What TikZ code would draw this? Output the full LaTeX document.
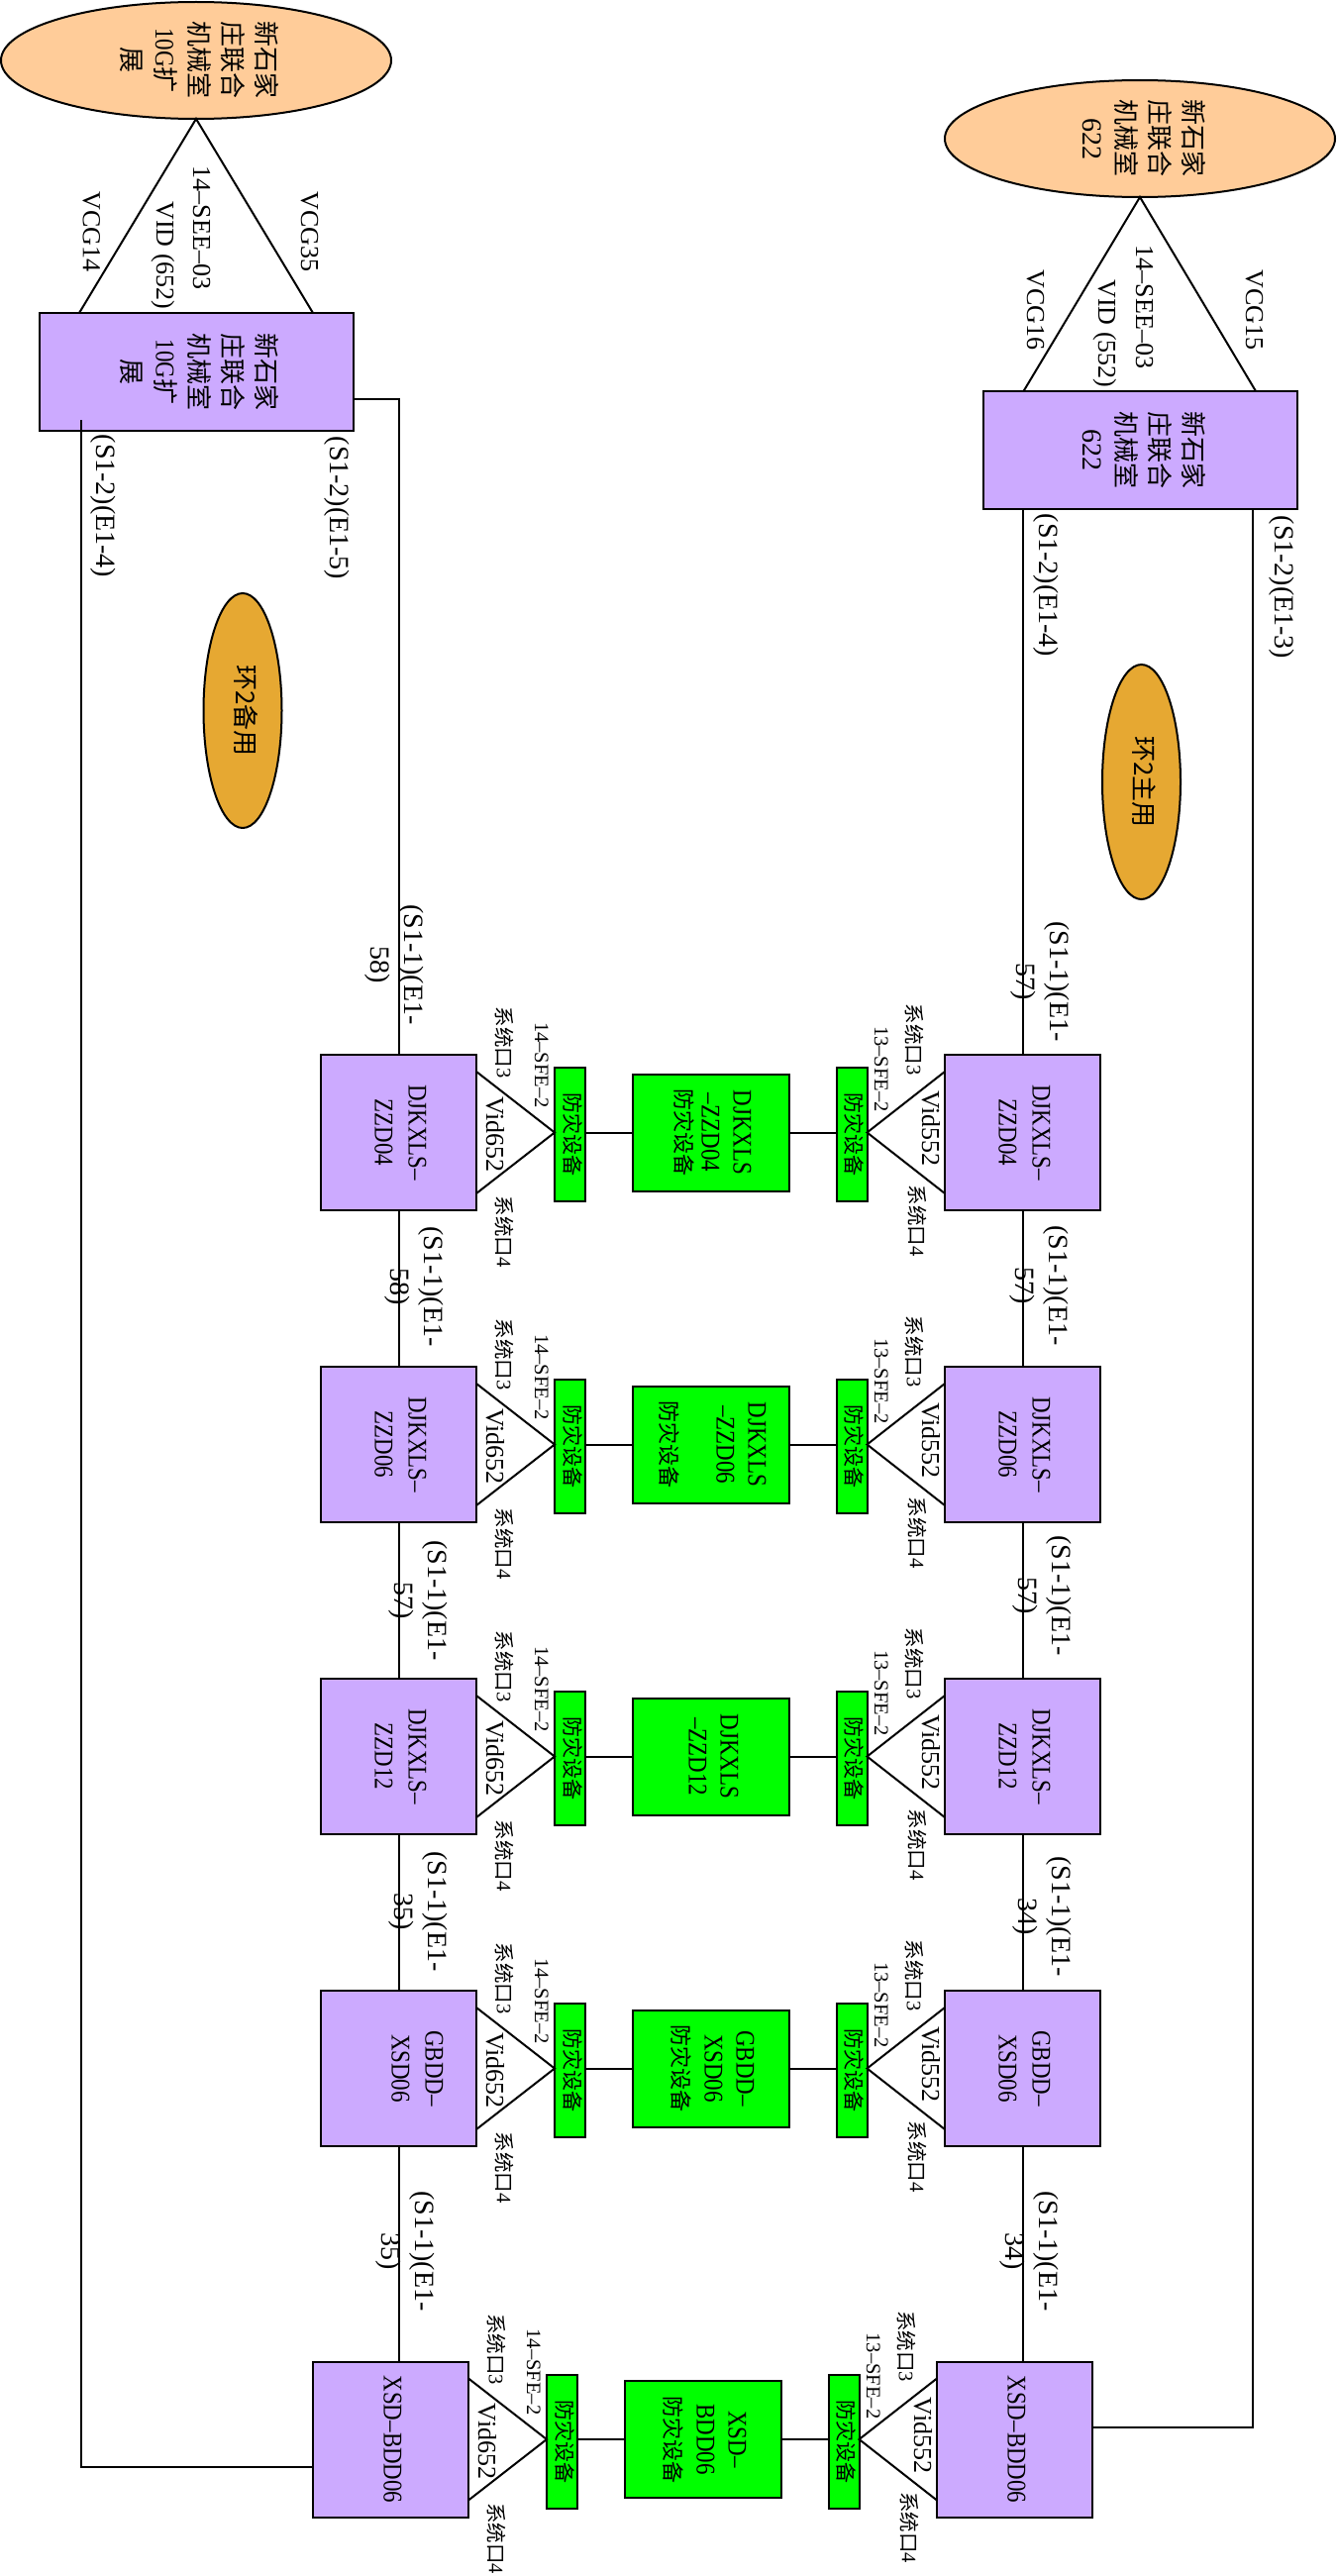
\documentclass[tikz,border=0pt]{standalone}
\usepackage{fontspec}
\setmainfont{Liberation Serif}
\newfontfamily\nmfont[FakeStretch=0.85]{Liberation Serif}
\newfontfamily\cjk{Noto Sans CJK SC}
\usetikzlibrary{shapes.geometric,calc}
\newcommand\C[1]{{\cjk #1}}
\newcommand\Cg[1]{{\fontsize{11}{16}\selectfont\cjk #1}}
\newcommand\vtxt[1]{\rotatebox{-90}{\begin{tabular}{@{}c@{}}#1\end{tabular}}}
\newcommand\lat[1]{{\fontsize{13.5}{17}\selectfont\nmfont #1}}
\newcommand\num[1]{{\fontsize{14}{17}\selectfont #1}}
\definecolor{peach}{RGB}{255,204,153}
\definecolor{lav}{RGB}{204,170,255}
\definecolor{ringgold}{RGB}{230,168,50}
\definecolor{grn}{RGB}{0,255,0}
\begin{document}
\begin{tikzpicture}[x=0.5pt,y=-0.5pt,
  every node/.style={inner sep=0pt,outer sep=0pt},
  ln/.style={line width=1pt},
  boxed/.style={draw,line width=1pt,rectangle},
  pbox/.style={boxed,fill=lav,minimum width=78.5pt,minimum height=78.5pt,font=\fontsize{13.5}{17}\selectfont\nmfont},
  tbox/.style={boxed,fill=lav,minimum width=158.5pt,minimum height=59.5pt,font=\fontsize{13}{17}\selectfont},
  oell/.style={ellipse,draw,line width=1pt,fill=peach,minimum width=197pt,minimum height=59pt,font=\fontsize{13}{17}\selectfont},
  gell/.style={ellipse,draw,line width=1pt,fill=ringgold,minimum width=39.5pt,minimum height=118.5pt,font=\fontsize{13}{17}\selectfont},
  sgr/.style={boxed,fill=grn,minimum width=15.5pt,minimum height=67.5pt,font=\fontsize{10.5}{12}\selectfont},
  bgr/.style={boxed,fill=grn,minimum width=79pt,minimum height=59pt,font=\fontsize{13.5}{16}\selectfont\nmfont},
  lbl/.style={font=\fontsize{14}{17}\selectfont},
  vcg/.style={font=\fontsize{13}{15}\selectfont},
  sm/.style={font=\fontsize{10.25}{12}\selectfont},
  vid/.style={font=\fontsize{13}{15}\selectfont}]
\useasboundingbox (0,0) rectangle (1349,2601);
\fill[white] (0,0) rectangle (1349,2601);

% top ellipses and boxes
\node[oell] (E1) at (198,61) {\vtxt{\C{新石家}\\\C{庄联合}\\\C{机械室}\\\lat{10G}\C{扩}\\\C{展}}};
\node[tbox] (B1) at (198.5,375.5) {\vtxt{\C{新石家}\\\C{庄联合}\\\C{机械室}\\\lat{10G}\C{扩}\\\C{展}}};
\node[oell] (E2) at (1151,140) {\vtxt{\C{新石家}\\\C{庄联合}\\\C{机械室}\\\num{622}}};
\node[tbox] (B2) at (1151.5,454.5) {\vtxt{\C{新石家}\\\C{庄联合}\\\C{机械室}\\\num{622}}};
\draw[ln] ($(B1.north west)+(40,0)$) -- (E1.south) -- ($(B1.north east)+(-41,0)$);
\draw[ln] ($(B2.north west)+(40.5,0)$) -- (E2.south) -- ($(B2.north east)+(-42,0)$);
\node[vcg] (v14) at (90,234) {\vtxt{VCG14}};
\node[vcg] (v35) at (310,234) {\vtxt{VCG35}};
\node[vcg] (see1) at (201,230) {\vtxt{14–SEE–03}};
\node[vcg] (vid1) at (164,258) {\vtxt{VID (652)}};
\node[vcg] (v16) at (1043,313) {\vtxt{VCG16}};
\node[vcg] (v15) at (1264,313) {\vtxt{VCG15}};
\node[vcg] (see2) at (1153,310) {\vtxt{14–SEE–03}};
\node[vcg] (vid2) at (1115,337) {\vtxt{VID (552)}};
\node[lbl] (s14a) at (104,511) {\vtxt{(S1-2)(E1-4)}};
\node[lbl] (s15) at (340,513) {\vtxt{(S1-2)(E1-5)}};
\node[lbl] (s14b) at (1056,591) {\vtxt{(S1-2)(E1-4)}};
\node[lbl] (s13) at (1294,593) {\vtxt{(S1-2)(E1-3)}};

% ring ellipses
\node[gell] (ring1) at (245,717.5) {\vtxt{\C{环2备用}}};
\node[gell] (ring2) at (1152.5,789.5) {\vtxt{\C{环2主用}}};

% rows
\foreach \c/\d/\lt/\rt/\gt [count=\i] in {
  1143.5/0/{DJKXLS–\\ZZD04}/{DJKXLS–\\ZZD04}/{DJKXLS\\–ZZD04\\[-3pt]\Cg{防灾设备}},
  1458.5/0/{DJKXLS–\\ZZD06}/{DJKXLS–\\ZZD06}/{DJKXLS\\–ZZD06\\[12pt]\Cg{防灾设备}},
  1773.5/0/{DJKXLS–\\ZZD12}/{DJKXLS–\\ZZD12}/{DJKXLS\\–ZZD12},
  2088.5/0/{GBDD–\\XSD06\\{}}/{GBDD–\\XSD06}/{GBDD–\\XSD06\\\Cg{防灾设备}},
  2463/-8/{XSD–BDD06}/{XSD–BDD06}/{XSD–\\BDD06\\\Cg{防灾设备}}}
{
  \node[pbox] (L\i) at (402.5+\d,\c) {\vtxt{\lt}};
  \node[sgr] (Lg\i) at (575.5+\d,\c+2) {\vtxt{\C{防灾设备}}};
  \node[bgr] (bg\i) at (718+\d,\c) {\vtxt{\gt}};
  \node[sgr] (Rg\i) at (860+\d,\c+2) {\vtxt{\C{防灾设备}}};
  \node[pbox] (R\i) at (1032.5+\d,\c) {\vtxt{\rt}};
  \draw[ln] (bg\i.west) -- (bg\i.west -| Lg\i.east);
  \draw[ln] (bg\i.east) -- (bg\i.east -| Rg\i.west);
  \draw[ln] ($(L\i.north east)+(0,17)$) -- (Lg\i.west |- L\i.east) -- ($(L\i.south east)+(0,-17)$);
  \draw[ln] ($(R\i.north west)+(0,17)$) -- (Rg\i.east |- R\i.west) -- ($(R\i.south west)+(0,-17)$);
  \node[sm] (la\i) at (507+\d,\c-91) {\vtxt{\C{系统口}3}};
  \node[sm] (lb\i) at (545+\d,\c-68) {\vtxt{14–SFE–2}};
  \node[vid] (lc\i) at (497+\d,\c+2) {\vtxt{Vid652}};
  \node[sm] (ld\i) at (507+\d,\c+100) {\vtxt{\C{系统口}4}};
  \node[sm] (ra\i) at (921+\d,\c-94) {\vtxt{\C{系统口}3}};
  \node[sm] (rb\i) at (888+\d,\c-64) {\vtxt{13–SFE–2}};
  \node[vid] (rc\i) at (937+\d,\c-4) {\vtxt{Vid552}};
  \node[sm] (rd\i) at (924+\d,\c+89) {\vtxt{\C{系统口}4}};
}

% chain connectors
\foreach \a/\b in {1/2,2/3,3/4} {
  \draw[ln] (L\a) -- (L\b);
  \draw[ln] (R\a) -- (R\b);
}
\draw[ln] (L4.south) -- (L4.south |- L5.north);
\draw[ln] (R4.south) -- (R4.south |- R5.north);

% feeders from top boxes
\draw[ln] ($(B1.east)+(0,27.5)$) -| (L1.north);
\draw[ln] ($(B1.south west)+(42,-11)$) |- ($(L5.west)+(0,28)$);
\draw[ln] (R1.north) -- (R1.north |- B2.south);
\draw[ln] ($(B2.south east)+(-45,0)$) |- ($(R5.east)+(0,-12)$);

% link labels
\foreach \x/\y/\n [count=\k] in {398/974/58, 418/1299/58, 422/1616/57, 422/1930/35, 409/2273/35}
  \node[lbl] (ll\k) at (\x,\y) {\vtxt{(S1-1)(E1-\\\n)}};
\foreach \x/\y/\n [count=\k] in {1050/991/57, 1049/1298/57, 1052/1611/57, 1052/1935/34, 1039/2273/34}
  \node[lbl] (rl\k) at (\x,\y) {\vtxt{(S1-1)(E1-\\\n)}};
\end{tikzpicture}
\end{document}
